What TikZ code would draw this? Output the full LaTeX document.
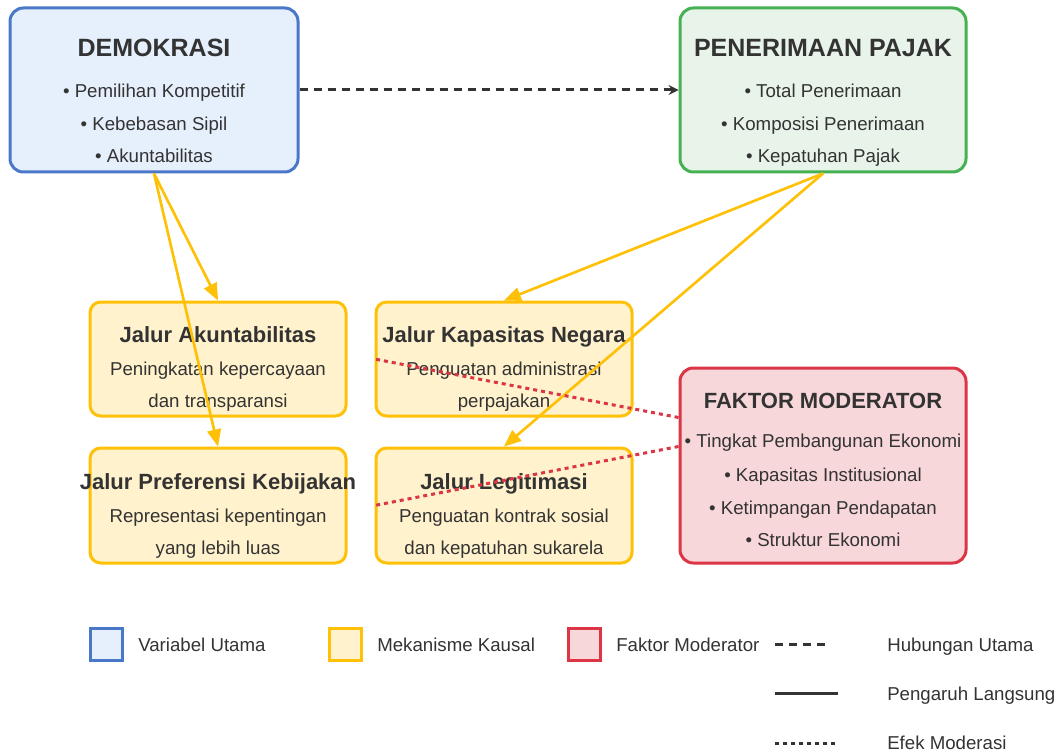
\documentclass[tikz,border=0pt]{standalone}
\usepackage{fontspec}
\setmainfont{Liberation Sans}
\usetikzlibrary{calc}
\usetikzlibrary{arrows}
\usetikzlibrary{fit}
\definecolor{ink}{HTML}{333333}
\definecolor{varline}{HTML}{4A78C8}
\definecolor{varfill}{HTML}{E6F0FC}
\definecolor{taxline}{HTML}{45B152}
\definecolor{taxfill}{HTML}{E8F4EA}
\definecolor{mechline}{HTML}{FFC107}
\definecolor{mechfill}{HTML}{FFF2CC}
\definecolor{modline}{HTML}{DC3545}
\definecolor{modfill}{HTML}{F8D7DA}

\begin{document}
\begin{tikzpicture}[
     x=0.75pt, y=-0.75pt,
     box/.style={draw, line width=2.25pt, rounded corners=8pt, inner sep=0pt},
     var/.style={box, rounded corners=10pt, draw=varline, fill=varfill},
     tax/.style={box, rounded corners=10pt, draw=taxline, fill=taxfill},
     mech/.style={box, draw=mechline, fill=mechfill},
     moder/.style={box, rounded corners=10pt, draw=modline, fill=modfill},
     ttl/.style={text=ink, inner sep=0pt, font=\bfseries\fontsize{18.75}{22}\selectfont, text height=13.4pt, text depth=0pt},
     sub/.style={text=ink, inner sep=0pt, font=\bfseries\fontsize{16.5}{20}\selectfont, text height=11.8pt, text depth=0pt},
     itm/.style={text=ink, inner sep=0pt, font=\fontsize{14}{17}\selectfont, text height=10pt, text depth=0pt},
     causal/.style={draw=mechline, line width=2pt, -triangle 45},
     mainlink/.style={draw=ink, line width=2.25pt, dash pattern=on 6pt off 4.5pt},
     effect/.style={draw=modline, line width=2.25pt, dash pattern=on 3pt off 3pt},
     keybox/.style={draw, line width=2.25pt, minimum size=24pt, inner sep=0pt}
   ]
   \path[use as bounding box] (0,0) rectangle (1064,756);
   % Main variables.
   \node[var, fit={(10,8) (298,172)}] (demo) {};
   \node[ttl] (demo-t) at (154,48) {DEMOKRASI};
   \node[itm] (demo-1) at (154,91) {• Pemilihan Kompetitif};
   \node[itm] (demo-2) at (154,124) {• Kebebasan Sipil};
   \node[itm] (demo-3) at (154,156) {• Akuntabilitas};
   \node[tax, fit={(680,8) (966,172)}] (tax) {};
   \node[ttl] (tax-t) at (823,48) {PENERIMAAN PAJAK};
   \node[itm] (tax-1) at (823,91) {• Total Penerimaan};
   \node[itm] (tax-2) at (823,124) {• Komposisi Penerimaan};
   \node[itm] (tax-3) at (823,156) {• Kepatuhan Pajak};
   % Causal mechanisms.
   \node[mech, fit={(90,302) (346,416)}] (akun) {};
   \node[sub] (akun-t) at (218,335) {Jalur Akuntabilitas};
   \node[itm] (akun-1) at (218,369) {Peningkatan kepercayaan};
   \node[itm] (akun-2) at (218,401) {dan transparansi};
   \node[mech, fit={(376,302) (632,416)}] (kap) {};
   \node[sub] (kap-t) at (504,335) {Jalur Kapasitas Negara};
   \node[itm] (kap-1) at (504,369) {Penguatan administrasi};
   \node[itm] (kap-2) at (504,401) {perpajakan};
   \node[mech, fit={(90,448) (346,563)}] (pref) {};
   \node[sub] (pref-t) at (218,482) {Jalur Preferensi Kebijakan};
   \node[itm] (pref-1) at (218,516) {Representasi kepentingan};
   \node[itm] (pref-2) at (218,548) {yang lebih luas};
   \node[mech, fit={(376,448) (632,563)}] (leg) {};
   \node[sub] (leg-t) at (504,482) {Jalur Legitimasi};
   \node[itm] (leg-1) at (504,516) {Penguatan kontrak sosial};
   \node[itm] (leg-2) at (504,548) {dan kepatuhan sukarela};
   % Moderators.
   \node[moder, fit={(680,368) (966,563)}] (mod) {};
   \node[sub] (mod-t) at (823,401) {FAKTOR MODERATOR};
   \node[itm] (mod-1) at (823,441) {• Tingkat Pembangunan Ekonomi};
   \node[itm] (mod-2) at (823,475) {• Kapasitas Institusional};
   \node[itm] (mod-3) at (823,508) {• Ketimpangan Pendapatan};
   \node[itm] (mod-4) at (823,540) {• Struktur Ekonomi};
   % Links.
   \draw[mainlink, -stealth] (demo.east |- 0,90) -- (tax.west |- 0,90);
   \draw[causal] (demo.south) -- (akun.north);
   \draw[causal] (demo.south) -- (pref.north);
   \draw[causal] (tax.south) -- (kap.north);
   \draw[causal] (tax.south) -- (leg.north);
   \draw[effect] (mod.west |- kap.south) -- (kap.west);
   \draw[effect] (mod.west |- leg.north) -- (leg.west);
   % Legend.
   \node[keybox, draw=varline, fill=varfill] (key-var) at (106,644) {};
   \node[itm, anchor=west] (key-var-t) at (138,645) {Variabel Utama};
   \node[keybox, draw=mechline, fill=mechfill] (key-mech) at (345,644) {};
   \node[itm, anchor=west] (key-mech-t) at (377,645) {Mekanisme Kausal};
   \node[keybox, draw=modline, fill=modfill] (key-mod) at (584,644) {};
   \node[itm, anchor=west] (key-mod-t) at (616,645) {Faktor Moderator};
   \draw[mainlink] (775,644) -- (830,644);
   \node[itm, anchor=west] (key-main) at (887,645) {Hubungan Utama};
   \draw[draw=ink, line width=2.25pt] (775,693) -- (838,693);
   \node[itm, anchor=west] (key-direct) at (887,694) {Pengaruh Langsung};
   \draw[effect, draw=ink] (775,743) -- (837,743);
   \node[itm, anchor=west] (key-effect) at (887,743) {Efek Moderasi};
 \end{tikzpicture}
\end{document}
